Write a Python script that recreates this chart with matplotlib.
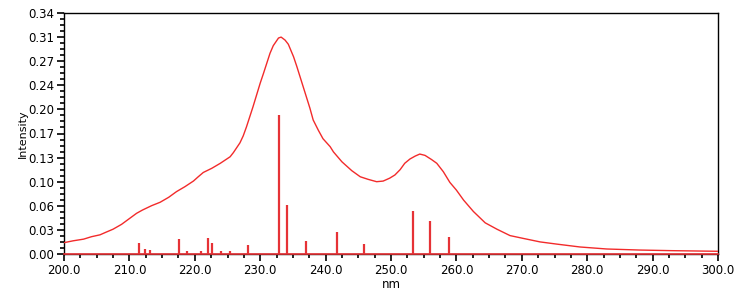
import matplotlib
matplotlib.use("Agg")
import matplotlib.pyplot as plt
from matplotlib.ticker import MultipleLocator, AutoMinorLocator

# broadened spectrum (nm, intensity)
curve_nm = [200.0, 201.4, 203.0, 204.2, 205.5, 206.5, 207.5, 208.8, 210.0, 211.1,
            212.0, 213.4, 214.7, 216.0, 217.2, 218.5, 219.8, 220.5, 221.3, 222.6,
            223.9, 225.4, 225.9, 226.9, 227.4, 227.9, 228.9, 230.0, 230.5, 231.5,
            232.0, 232.8, 233.2, 233.8, 234.3, 235.1, 235.6, 236.1, 236.9, 237.6,
            238.1, 238.9, 239.6, 240.7, 241.2, 242.5, 244.0, 245.3, 246.5, 247.8,
            248.8, 249.8, 250.6, 251.4, 252.1, 252.9, 253.7, 254.4, 255.2, 256.2,
            257.0, 258.0, 259.0, 260.0, 261.1, 262.6, 264.4, 266.2, 268.2, 270.2,
            272.8, 275.3, 278.9, 283.0, 288.0, 293.0, 300.0]
curve_int = [0.0163, 0.0190, 0.0214, 0.0249, 0.0276, 0.0317, 0.0357, 0.0427, 0.0510, 0.0586,
             0.0633, 0.0696, 0.0745, 0.0816, 0.0898, 0.0970, 0.1051, 0.1110, 0.1174, 0.1234,
             0.1306, 0.1400, 0.1460, 0.1600, 0.1700, 0.1830, 0.2120, 0.2460, 0.2600, 0.2890,
             0.3000, 0.3110, 0.3123, 0.3080, 0.3020, 0.2840, 0.2700, 0.2550, 0.2310, 0.2100,
             0.1930, 0.1780, 0.1660, 0.1545, 0.1470, 0.1327, 0.1200, 0.1112, 0.1075, 0.1041,
             0.1050, 0.1092, 0.1138, 0.1215, 0.1306, 0.1368, 0.1410, 0.1439, 0.1420, 0.1360,
             0.1306, 0.1185, 0.1031, 0.0920, 0.0776, 0.0612, 0.0449, 0.0357, 0.0265, 0.0225,
             0.0174, 0.0143, 0.0101, 0.0072, 0.0057, 0.0048, 0.0039]

# individual transitions (sticks)
stick_nm = [211.5, 212.4, 213.2, 217.6, 218.8, 220.9, 222.0, 222.6, 224.0, 225.4,
            228.2, 232.9, 234.1, 237.0, 241.7, 245.9, 253.3, 256.0, 258.9]
stick_int = [0.0154, 0.0067, 0.0053, 0.0211, 0.0039, 0.0039, 0.0231, 0.0154, 0.0039, 0.0039,
             0.0125, 0.1996, 0.0701, 0.0183, 0.0312, 0.0140, 0.0624, 0.0480, 0.0250]

y_max = 0.347
y_ticks = [y_max * k / 10 for k in range(11)]
y_labels = ["0.00", "0.03", "0.06", "0.10", "0.13", "0.17", "0.20", "0.24", "0.27", "0.31", "0.34"]

fig = plt.figure(figsize=(7.47, 3.0), dpi=100)
ax = fig.add_axes([64 / 747, 46 / 300, 654 / 747, 241 / 300])

ax.plot(curve_nm, curve_int, color="#f22b2b", lw=1.0, zorder=3)
ax.vlines(stick_nm, 0, stick_int, color="#e63236", lw=1.6, zorder=3)
ax.axhline(0, color="#e63236", lw=1.2, clip_on=False, zorder=5)

ax.set_xlim(200, 300)
ax.set_ylim(0, y_max)
ax.xaxis.set_major_locator(MultipleLocator(10))
ax.xaxis.set_minor_locator(MultipleLocator(2.5))
ax.set_xticklabels([f"{v:.1f}" for v in ax.get_xticks()])
ax.set_yticks(y_ticks)
ax.set_yticklabels(y_labels)
ax.yaxis.set_minor_locator(AutoMinorLocator(4))

ax.tick_params(which="major", length=5, width=1.2, labelsize=8.5, pad=2)
ax.tick_params(which="minor", length=3, width=1.2)
for s in ax.spines.values():
    s.set_linewidth(1.0)

ax.set_xlabel("nm", fontsize=8.5)
ax.xaxis.set_label_coords(0.5, -0.10)
# the reference draws this label on top of the tick labels
ax.set_ylabel("Intensity", fontsize=8)
ax.yaxis.set_label_coords(-0.056, 0.5)

fig.savefig("out.png", dpi=100)
